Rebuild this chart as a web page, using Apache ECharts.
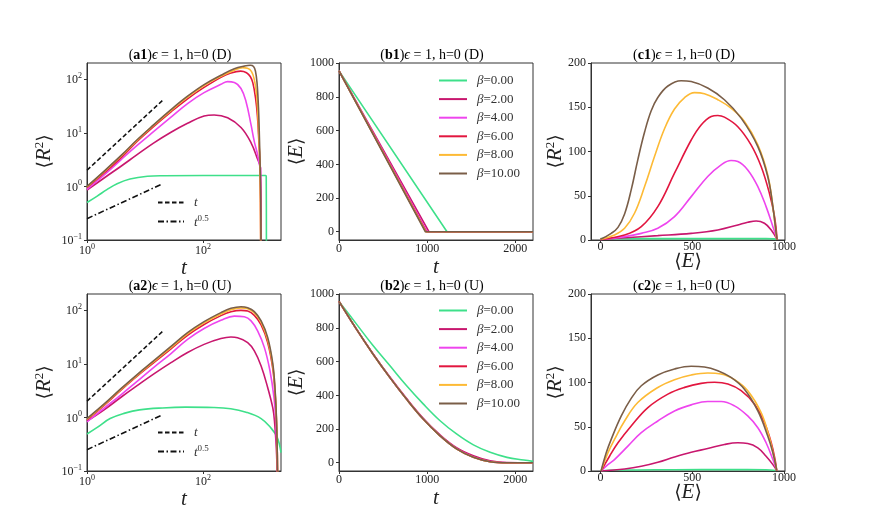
<!DOCTYPE html>
<html>
<head>
<meta charset="utf-8">
<script src="https://cdn.jsdelivr.net/npm/echarts@6/dist/echarts.min.js"></script>
<style>
  html, body { margin: 0; padding: 0; background: #fff; }
  #main { width: 872px; height: 529px; }
</style>
</head>
<body>
<div id="main"></div>
<script>
// ---- data ----
const betaNames = ['β=0.00', 'β=2.00', 'β=4.00', 'β=6.00', 'β=8.00', 'β=10.00'];

// (a1) <R^2> vs t, case D
const a1_b0 = [[1,0.5],[1.5,0.66],[2.2,0.87],[3.3,1.12],[5.5,1.37],[11,1.54],[21,1.58],[100,1.6],[1200,1.6],[1225,1.55],[1235,0.03]];
const a1_b2 = [[1,0.85],[2,1.45],[3.8,2.35],[7.3,3.9],[14,6.4],[28,10.2],[54,15],[104,20.5],[155,21.5],[265,19],[450,12.5],[671,6.5],[870,3.2],[975,2.2],[1000,0.03]];
const a1_b4 = [[1,0.88],[2,1.65],[3.8,3.1],[7.3,5.8],[14,10.5],[28,19.5],[54,35],[104,56],[203,80],[265,90],[345,87],[450,67],[550,38],[671,14],[760,7],[865,4],[940,2.5],[975,2.2],[992,0.03]];
const a1_b6 = [[1,0.95],[2,1.8],[4,3.55],[7.3,6.9],[14,13],[28,24.5],[54,43],[104,70],[203,108],[300,130],[443,141],[560,132],[650,112],[720,85],[800,45],[865,20],[920,6],[960,2.3],[990,0.03]];
const a1_b8 = [[1,0.98],[2,1.9],[4,3.8],[7.3,7.2],[14,13.7],[28,26],[54,46],[104,76],[203,113],[345,147],[480,164],[580,160],[680,140],[760,100],[830,55],[880,22],[920,7],[955,2.3],[990,0.03]];
const a1_b10 = [[1,1],[2,1.95],[4,3.9],[7.3,7.4],[14,14],[28,27],[54,48],[104,79],[203,118],[345,156],[514,175],[650,181],[740,172],[800,140],[850,85],[900,30],[935,8],[960,2.5],[985,0.6],[995,0.03]];

// (b1) <E> vs t, case D
const b1_b0 = [[0,955],[1225,0],[2200,0]];
const b1_b2 = [[0,955],[1020,0],[2200,0]];
const b1_b4 = [[0,955],[1000,0],[2200,0]];
const b1_b6 = [[0,955],[990,0],[2200,0]];
const b1_b8 = [[0,955],[985,0],[2200,0]];
const b1_b10 = [[0,955],[980,0],[2200,0]];

// (c1) <R^2> vs <E>, case D
const c1_b0 = [[0,1.6],[300,1.6],[600,1.6],[900,1.58],[945,1.3],[957,0.5]];
const c1_b2 = [[0,0.7],[131,2.6],[312,4.9],[494,7.5],[639,11.3],[748,17],[802,20],[848,21.5],[893,18.9],[930,11.3],[962,0.5]];
const c1_b4 = [[0,0.7],[131,3.8],[222,7.5],[312,13.2],[403,26.4],[494,49],[584,71.7],[657,84.9],[711,89.8],[748,88.7],[802,79.2],[857,60.4],[902,37.7],[939,15.1],[962,0.5]];
const c1_b6 = [[0,0.7],[131,5.7],[222,15.1],[312,37.7],[403,75.5],[494,113],[548,130],[603,139.6],[639,140.7],[675,138.8],[748,128],[820,107.5],[875,83],[920,52.8],[948,26.4],[962,0.5]];
const c1_b8 = [[0,0.7],[76,5.7],[131,13.2],[185,30.2],[240,60.4],[294,94.3],[349,126],[403,148],[458,161],[512,166.5],[566,165.3],[639,158.5],[711,149],[784,134],[857,107.5],[911,73.6],[939,37.7],[958,3.8],[962,0.5]];
const c1_b10 = [[0,0.75],[58,7.5],[95,14.3],[131,29.4],[167,56.6],[203,90.6],[240,122],[276,146],[312,161],[367,174],[439,180],[494,179],[584,171.7],[675,158.5],[766,137.7],[857,105.6],[911,71.7],[939,37.7],[957,7.5],[962,0.5]];

// (a2) <R^2> vs t, case U
const a2_b0 = [[1,0.49],[1.5,0.65],[2.5,0.95],[4.5,1.2],[8,1.38],[20,1.5],[50,1.55],[150,1.53],[300,1.45],[550,1.25],[1000,0.95],[1450,0.65],[1900,0.42],[2200,0.22]];
const a2_b2 = [[1,0.85],[2,1.4],[3.8,2.35],[7.3,3.9],[14,6.4],[28,10.5],[54,16.2],[104,23],[203,29.5],[302,31.5],[392,30.6],[587,24.8],[764,17.4],[1000,9.1],[1297,3.6],[1589,1.5],[1700,0.85],[1850,0.2],[1910,0.03]];
const a2_b4 = [[1,0.82],[2,1.5],[3.8,2.6],[7.3,4.7],[14,8.5],[28,15.5],[54,28.5],[104,45.5],[203,64.5],[345,77.5],[514,75],[671,63],[870,41],[1139,20],[1420,7.4],[1660,2.4],[1780,0.9],[1880,0.2],[1920,0.03]];
const a2_b6 = [[1,0.9],[2,1.7],[3.8,3.2],[7.3,5.9],[14,10.4],[28,19],[54,34],[104,54],[203,79],[302,93],[450,99],[587,96],[764,80],[1000,53],[1297,25],[1590,8],[1745,2.6],[1840,0.8],[1900,0.2],[1930,0.03]];
const a2_b8 = [[1,0.93],[2,1.75],[3.8,3.3],[7.3,6.1],[14,10.9],[28,20],[54,36],[104,58],[203,85],[302,102],[450,110],[587,106],[764,89],[1000,59],[1297,28],[1590,9],[1745,2.9],[1840,0.85],[1900,0.2],[1930,0.03]];
const a2_b10 = [[1,0.95],[2,1.8],[3.8,3.4],[7.3,6.3],[14,11.3],[28,21],[54,38],[104,61],[203,90],[302,108],[450,116],[587,111],[764,94],[1000,63],[1297,31],[1590,10],[1745,3.1],[1840,0.9],[1900,0.2],[1930,0.03]];

// (b2) <E> vs t, case U
const b2_b0 = [[0,958],[190,829],[381,699],[571,580],[762,460],[952,351],[1143,251],[1333,171],[1524,106],[1714,62],[1905,32],[2095,16],[2200,8]];
const b2_b2 = [[0,958],[190,800],[381,651],[571,513],[762,384],[952,266],[1143,167],[1333,90],[1524,42],[1714,12],[1905,1],[2200,0]];
const b2_b4 = [[0,958],[190,799],[381,650],[571,511],[762,381],[952,262],[1143,162],[1333,84],[1524,34],[1714,7],[1905,0],[2200,0]];
const b2_b6 = [[0,958],[190,799],[381,649],[571,510],[762,380],[952,261],[1143,161],[1333,82],[1524,32],[1714,6],[1905,0],[2200,0]];
const b2_b8 = [[0,958],[190,799],[381,649],[571,510],[762,380],[952,261],[1143,161],[1333,82],[1524,32],[1714,6],[1905,0],[2200,0]];
const b2_b10 = [[0,958],[190,799],[381,649],[571,510],[762,380],[952,261],[1143,161],[1333,82],[1524,32],[1714,6],[1905,0],[2200,0]];

// (c2) <R^2> vs <E>, case U
const c2_b0 = [[8,0.22],[50,0.9],[200,1.2],[400,1.45],[700,1.55],[900,1.4],[955,0.5]];
const c2_b2 = [[3,0],[131,2.3],[222,5.3],[312,9.9],[403,15.9],[494,21.2],[584,25.4],[675,30],[748,31.9],[802,31.1],[857,26.2],[902,16.7],[939,7.2],[960,0.5]];
const c2_b4 = [[3,0],[40,7.2],[76,12.9],[149,28.1],[222,43.3],[312,56.5],[403,67.9],[494,74.7],[584,78.5],[657,78.5],[730,73.6],[802,62.2],[857,48.9],[902,31.9],[939,12.9],[960,0.5]];
const c2_b6 = [[3,0],[49,16.7],[95,31.9],[167,50.8],[258,71.7],[367,86.9],[458,94.5],[548,99],[621,100.2],[694,98.3],[766,90.7],[839,75.5],[893,54.6],[930,31.9],[951,12.9],[960,0.5]];
const c2_b8 = [[3,0],[40,20.5],[76,35.7],[131,56.5],[203,77.4],[312,94.4],[403,103.2],[494,108.5],[584,110.8],[657,109.7],[730,103.2],[802,90.7],[875,66],[920,37.6],[944,16.7],[960,0.5]];
const c2_b10 = [[3,0],[31,20.5],[58,35.7],[113,62.2],[167,82],[222,96.3],[312,108.5],[403,115.3],[494,118.4],[566,117.6],[639,113.4],[711,105.8],[784,92.5],[857,67.9],[911,39.5],[939,20.5],[960,0.5]];

// guide lines in (a) panels
const guideT = [[1,2],[20,40]];
const guideSqrt = [[1,0.25],[20,1.12]];

// tick labels
const tickLogT = [1, 100];
const tickLogR = [0.1, 1, 10, 100];
const tickT = [0, 1000, 2000];
const tickE = [0, 200, 400, 600, 800, 1000];
const tickEx = [0, 500, 1000];
const tickR = [0, 50, 100, 150, 200];

const panelData = [
  [a1_b0, a1_b2, a1_b4, a1_b6, a1_b8, a1_b10],
  [b1_b0, b1_b2, b1_b4, b1_b6, b1_b8, b1_b10],
  [c1_b0, c1_b2, c1_b4, c1_b6, c1_b8, c1_b10],
  [a2_b0, a2_b2, a2_b4, a2_b6, a2_b8, a2_b10],
  [b2_b0, b2_b2, b2_b4, b2_b6, b2_b8, b2_b10],
  [c2_b0, c2_b2, c2_b4, c2_b6, c2_b8, c2_b10]
];
const panelTitles = [['a1', 'D'], ['b1', 'D'], ['c1', 'D'], ['a2', 'U'], ['b2', 'U'], ['c2', 'U']];

// ---- styling ----
const F = 'Liberation Serif, DejaVu Serif, serif';
const INK = '#222';
const colors = ['#3EE08A', '#C8176E', '#EE45EE', '#E2163F', '#FDBA35', '#7A5E48'];

const cols = [87, 339, 591];
const rows = [63, 294];
const W = 194, H = 177;

const richBase = {
  n: { fontFamily: F, fontSize: 12, color: INK, verticalAlign: 'bottom' },
  i: { fontFamily: F, fontSize: 12, color: INK, fontStyle: 'italic', verticalAlign: 'bottom' },
  b: { fontFamily: F, fontSize: 12, color: INK, fontWeight: 'bold', verticalAlign: 'bottom' },
  s: { fontFamily: F, fontSize: 8, color: INK, verticalAlign: 'bottom', padding: [0, 0, 6, 0] }
};
const richTitle = {
  n: { fontFamily: F, fontSize: 14, color: INK, verticalAlign: 'bottom' },
  i: { fontFamily: F, fontSize: 14, color: INK, fontStyle: 'italic', verticalAlign: 'bottom' },
  b: { fontFamily: F, fontSize: 14, color: INK, fontWeight: 'bold', verticalAlign: 'bottom' }
};
const richName = {
  a: { fontFamily: 'DejaVu Serif, serif', fontSize: 19, lineHeight: 22, color: INK, verticalAlign: 'bottom' },
  i: { fontFamily: F, fontSize: 21, lineHeight: 22, color: INK, fontStyle: 'italic', verticalAlign: 'bottom' },
  s: { fontFamily: F, fontSize: 13, color: INK, verticalAlign: 'bottom', padding: [0, 0, 9, 0] }
};

function logLabel(v) {
  const e = Math.round(Math.log10(v));
  return '{n|10}{s|' + (e < 0 ? '−' + (-e) : e) + '}';
}

function axis(min, max, ticks, isLog, margin, extra) {
  const ax = {
    type: isLog ? 'log' : 'value',
    min: min, max: max,
    splitLine: { show: false },
    axisLine: { show: true, onZero: false, lineStyle: { color: '#333', width: 1 } },
    axisTick: { show: true, inside: false, length: 3, customValues: ticks, lineStyle: { color: '#333' } },
    axisLabel: {
      customValues: ticks, margin: margin, color: INK, fontFamily: F, fontSize: 12,
      formatter: isLog ? logLabel : (v => '{n|' + v + '}'),
      rich: richBase
    },
    nameLocation: 'middle',
    nameMoveOverlap: false,
    nameTextStyle: { fontSize: 20, lineHeight: 22, rich: richName }
  };
  if (isLog) ax.logBase = 10;
  return Object.assign(ax, extra || {});
}

const grids = [], xAxes = [], yAxes = [], series = [], graphics = [];
for (let k = 0; k < 6; k++) {
  const c = k % 3, r = Math.floor(k / 3);
  grids.push({
    left: cols[c], top: rows[r], width: W, height: H,
    show: true, borderColor: '#333', borderWidth: 1, backgroundColor: 'transparent',
    containLabel: false, outerBoundsMode: 'none'
  });
  if (c === 0) {
    xAxes.push(axis(1, 2200, tickLogT, true, 3, { gridIndex: k, name: '{i|t}', nameGap: 17 }));
    yAxes.push(axis(0.1, 200, tickLogR, true, 5, { gridIndex: k, name: '{a|⟨}{i|R}{s|2}{a|⟩}', nameGap: 32, nameRotate: 90 }));
  } else if (c === 1) {
    xAxes.push(axis(0, 2200, tickT, false, 3, { gridIndex: k, name: '{i|t}', nameGap: 16 }));
    yAxes.push(axis(-49, 1002, tickE, false, 5, { gridIndex: k, name: '{a|⟨}{i|E}{a|⟩}', nameGap: 32, nameRotate: 90 }));
  } else {
    xAxes.push(axis(-52, 1005, tickEx, false, 1, { gridIndex: k, name: '{a|⟨}{i|E}{a|⟩}', nameGap: 10 }));
    yAxes.push(axis(0, 200, tickR, false, 5, { gridIndex: k, name: '{a|⟨}{i|R}{s|2}{a|⟩}', nameGap: 25, nameRotate: 90 }));
  }

  panelData[k].forEach((d, j) => {
    series.push({
      type: 'line', name: betaNames[j], data: d,
      xAxisIndex: k, yAxisIndex: k,
      symbol: 'none', showSymbol: false,
      smooth: (c === 1 && r === 0) ? false : 0.4,
      lineStyle: { color: colors[j], width: 1.6 },
      itemStyle: { color: colors[j] },
      clip: true, z: 2 + j, silent: true
    });
  });

  if (c === 0) {
    series.push({
      type: 'line', name: 't', data: guideT, xAxisIndex: k, yAxisIndex: k,
      symbol: 'none', lineStyle: { color: '#111', width: 1.6, type: [4.5, 2.5] },
      itemStyle: { color: '#111' }, z: 10, silent: true
    });
    series.push({
      type: 'line', name: 't05', data: guideSqrt, xAxisIndex: k, yAxisIndex: k,
      symbol: 'none', lineStyle: { color: '#111', width: 1.6, type: [6, 2.5, 1.5, 2.5] },
      itemStyle: { color: '#111' }, z: 10, silent: true
    });
  }

  const t = panelTitles[k];
  graphics.push({
    type: 'text', x: cols[c] + W / 2 - 4, y: rows[r] - 0.5,
    style: {
      text: '{n|(}{b|' + t[0] + '}{n|)}{i|ϵ}{n| = 1, h=0 (' + t[1] + ')}',
      rich: richTitle, align: 'center', verticalAlign: 'bottom'
    },
    silent: true
  });
}

const legendRich = {
  i: { fontFamily: F, fontSize: 13, color: '#333', fontStyle: 'italic', padding: [0, 0, 0, 5], verticalAlign: 'bottom' },
  n: { fontFamily: F, fontSize: 13, color: '#333', verticalAlign: 'bottom' },
  s: { fontFamily: F, fontSize: 9, color: '#333', verticalAlign: 'bottom', padding: [0, 0, 6, 0] }
};
function betaLegend(top) {
  return {
    orient: 'vertical', left: 438, top: top, padding: 0,
    itemWidth: 28, itemHeight: 14, itemGap: 5.6,
    data: betaNames, selectedMode: false,
    itemStyle: { opacity: 0, borderWidth: 0 },
    formatter: name => '{i|β}{n|' + name.slice(1) + '}',
    textStyle: { rich: legendRich }
  };
}
function guideLegend(top) {
  return {
    orient: 'vertical', left: 157, top: top, padding: 0,
    itemWidth: 26, itemHeight: 14, itemGap: 5,
    data: ['t', 't05'], selectedMode: false,
    itemStyle: { opacity: 0, borderWidth: 0 },
    formatter: name => name === 't' ? '{i|t}' : '{i|t}{s|0.5}',
    textStyle: { rich: legendRich }
  };
}

const chart = echarts.init(document.getElementById('main'), null, { renderer: 'canvas' });
chart.setOption({
  animation: false,
  backgroundColor: '#fff',
  grid: grids,
  xAxis: xAxes,
  yAxis: yAxes,
  legend: [betaLegend(74), betaLegend(304), guideLegend(196), guideLegend(426)],
  series: series,
  graphic: graphics
});
</script>
</body>
</html>
